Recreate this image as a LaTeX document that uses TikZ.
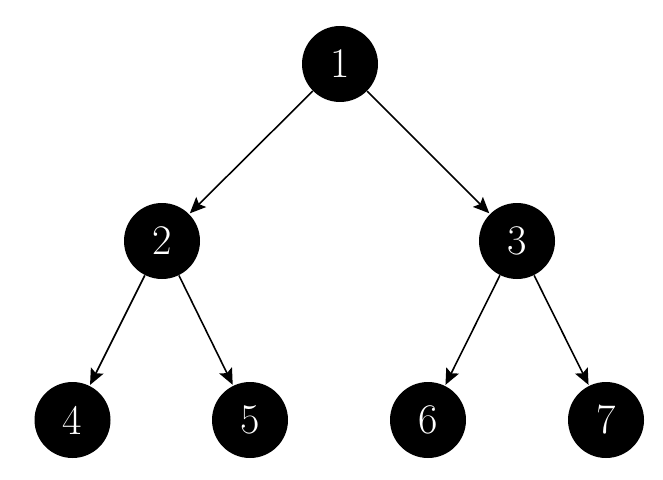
\documentclass[tikz,border=0pt]{standalone}
\usepackage{tikz}
\usetikzlibrary{positioning,arrows.meta}

\begin{document}
\begin{tikzpicture}[
  vertex/.style={circle, fill=black, text=white, minimum size=1.52cm, inner sep=0pt, font=\fontsize{24}{28}\selectfont},
  edge/.style={-{Stealth[length=3.2mm, width=2.8mm, inset=0.6mm]}, line width=0.9pt, shorten >=0.5pt}
]
  \useasboundingbox (0,0) rectangle (13.26,9.58);
  \node[vertex] (n1) at (6.80,8.30) {1};
  \node[vertex] (n2) at (3.24,4.76) {2};
  \node[vertex] (n3) at (10.34,4.76) {3};
  \node[vertex] (n4) at (1.45,1.18) {4};
  \node[vertex] (n5) at (5.00,1.18) {5};
  \node[vertex] (n6) at (8.56,1.18) {6};
  \node[vertex] (n7) at (12.12,1.18) {7};
  \draw[edge] (n1) -- (n2);
  \draw[edge] (n1) -- (n3);
  \draw[edge] (n2) -- (n4);
  \draw[edge] (n2) -- (n5);
  \draw[edge] (n3) -- (n6);
  \draw[edge] (n3) -- (n7);
\end{tikzpicture}
\end{document}
